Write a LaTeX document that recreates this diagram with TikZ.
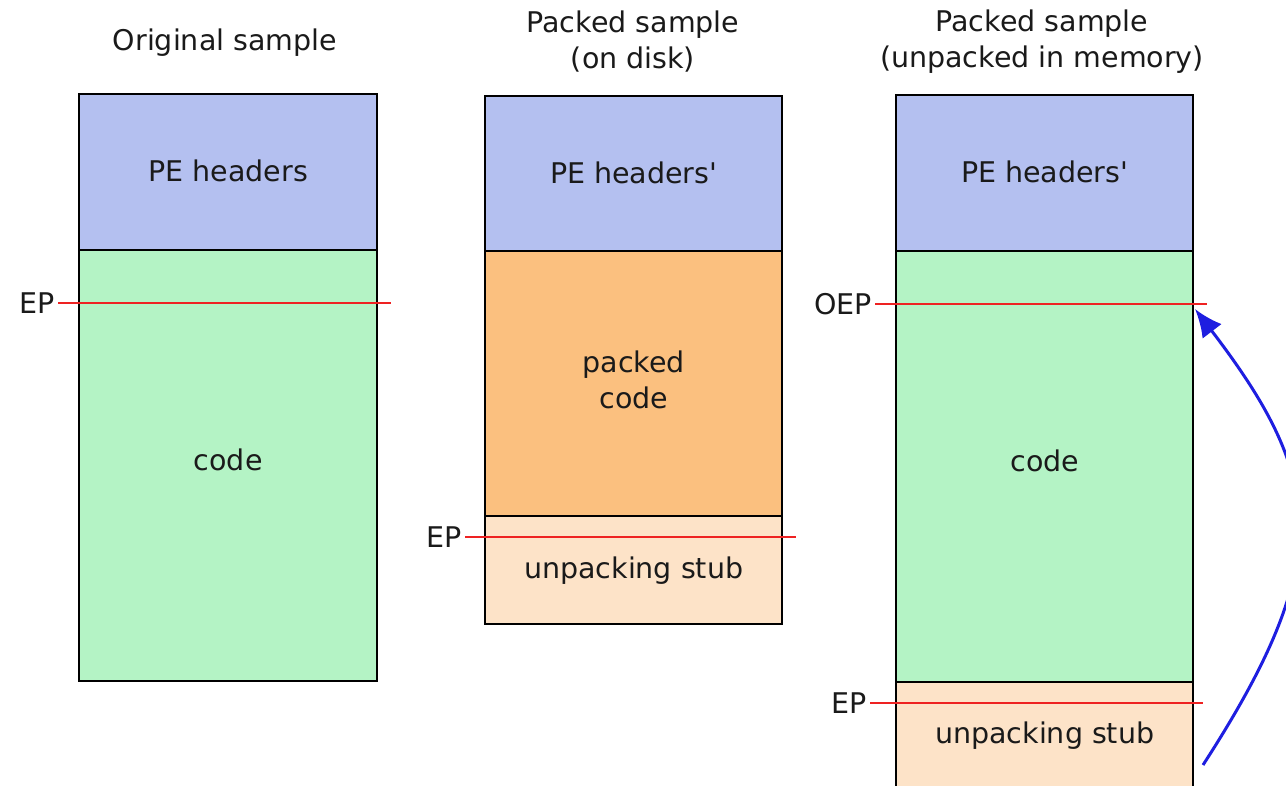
\documentclass[tikz,border=0pt]{standalone}
\usepackage{fontspec}
\setmainfont{DejaVu Sans}
\usetikzlibrary{arrows.meta}
\definecolor{hdrblue}{HTML}{B4C0F0}
\definecolor{codegreen}{HTML}{B4F3C5}
\definecolor{packorange}{HTML}{FBC07F}
\definecolor{stubpeach}{HTML}{FDE3C8}
\definecolor{eplinered}{HTML}{EE2222}
\definecolor{jumpblue}{HTML}{1E1EE0}
\definecolor{inkdark}{HTML}{1A1A1A}
\newcommand{\sq}{\textquotesingle}
\tikzset{
  x=1pt, y=-1pt,
  every node/.style={font=\fontsize{28.5}{36}\selectfont, text=inkdark},
  block/.style={draw=black, line width=2.4pt, anchor=north west, inner sep=0pt,
                minimum width=297pt},
  blocktext/.style={align=center},
  title/.style={align=center, font=\fontsize{28.5}{36}\selectfont},
  epline/.style={draw=eplinered, line width=2.6pt},
  eplabel/.style={anchor=east, inner sep=3pt},
  jump/.style={draw=jumpblue, line width=3pt, -{Latex[length=28pt,width=24pt]}}
}
\begin{document}
\begin{tikzpicture}
\useasboundingbox (0,0) rectangle (1286,786);
\fill[white] (0,0) rectangle (1286,786);

% column titles
\node[title] (t1) at (225,43) {Original sample};
\node[title] (t2) at (633,42) {Packed sample\\(on disk)};
\node[title] (t3) at (1042,42) {Packed sample\\(unpacked in memory)};

% original sample
\node[block, fill=hdrblue, minimum height=156pt, minimum width=298pt] (h1) at (78,93) {};
\node[block, fill=codegreen, minimum height=431pt, minimum width=298pt] (c1) at (78,249) {};
\node[blocktext] (h1t) at ([yshift=1pt]h1.center) {PE headers};
\node[blocktext] (c1t) at ([yshift=6pt]c1.center) {code};

% packed sample on disk
\node[block, fill=hdrblue, minimum height=155pt] (h2) at (484,95) {};
\node[block, fill=packorange, minimum height=265pt] (p2) at (484,250) {};
\node[block, fill=stubpeach, minimum height=108pt] (s2) at (484,515) {};
\node[blocktext] (h2t) at ([yshift=1pt]h2.center) {PE headers\sq};
\node[blocktext] (p2t) at ([yshift=4pt]p2.center) {packed\\code};
\node[blocktext] (s2t) at (s2.center) {unpacking stub};

% packed sample unpacked in memory
\node[block, fill=hdrblue, minimum height=156pt] (h3) at (895,94) {};
\node[block, fill=codegreen, minimum height=431pt] (c3) at (895,250) {};
\node[block, fill=stubpeach, minimum height=106pt] (s3) at (895,681) {};
\node[blocktext] (h3t) at ([yshift=1pt]h3.center) {PE headers\sq};
\node[blocktext] (c3t) at ([yshift=6pt]c3.center) {code};
\node[blocktext] (s3t) at (s3.center) {unpacking stub};

% entry point markers
\coordinate (e1a) at (58,303);  \coordinate (e1b) at (391,303);
\coordinate (e2a) at (465,537); \coordinate (e2b) at (796,537);
\coordinate (e3a) at (875,304); \coordinate (e3b) at (1207,304);
\coordinate (e4a) at (870,703); \coordinate (e4b) at (1203,703);
\draw[epline] (e1a) -- (e1b);
\draw[epline] (e2a) -- (e2b);
\draw[epline] (e3a) -- (e3b);
\draw[epline] (e4a) -- (e4b);
\node[eplabel] (l1) at (e1a) {EP};
\node[eplabel] (l2) at (e2a) {EP};
\node[eplabel] (l3) at (e3a) {OEP};
\node[eplabel] (l4) at (e4a) {EP};

% jump from the stub back to the original entry point
\coordinate (jfrom) at (1203,765);
\coordinate (jto) at (1195,309);
\draw[jump] (jfrom) .. controls (1335,561) and (1325,479) .. (jto);
\end{tikzpicture}
\end{document}
